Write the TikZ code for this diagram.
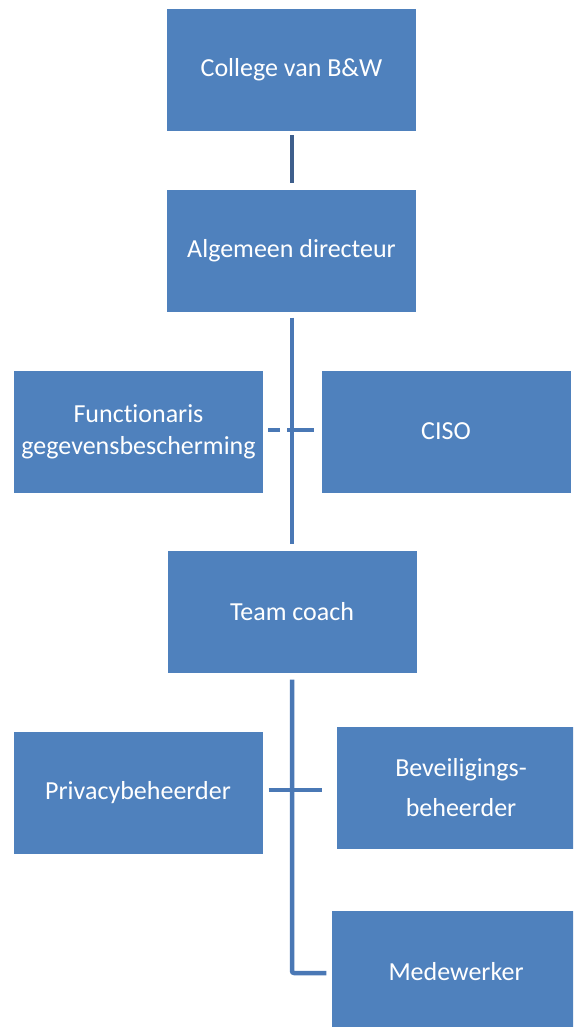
\documentclass[tikz,border=0pt]{standalone}
\usepackage{fontspec}
\setmainfont{Carlito}[Ligatures={NoCommon}, RawFeature={-liga;-dlig;-calt}]
\definecolor{boxblue}{HTML}{4F81BD}
\definecolor{linedark}{HTML}{3E5F8C}
\definecolor{lineblue}{HTML}{4A78B5}
\begin{document}
\begin{tikzpicture}[x=1pt,y=-1pt,
  orgbox/.style={fill=boxblue, draw=none, minimum width=249pt, minimum height=122pt,
    inner sep=0pt, align=center, text=white, font=\fontsize{26}{32}\selectfont},
  conn/.style={draw=lineblue, line width=4.5pt},
  conndash/.style={draw=lineblue, line width=4.5pt, dash pattern=on 12pt off 7pt}]
\useasboundingbox (0,0) rectangle (573,1027);
\clip (0,0) rectangle (573,1027);
\node[orgbox] (cvb) at (291.5,70) {College van B\&W};
\node[orgbox] (ad) at (291.5,250.5) {Algemeen directeur};
\node[orgbox] (fun) at (138.5,431.5) {Funct\kern0pt ionaris\\gegevensbescherming};
\node[orgbox] (ciso) at (446,431.5) {CISO};
\node[orgbox] (tc) at (292,611.5) {Team coach};
\node[orgbox] (priv) at (138,792.5) {Privacybeheerder};
\node[orgbox] (bev) at (461,788) {Beveiligings-\\[8pt]beheerder};
\node[orgbox] (med) at (456,971.5) {Medewerker};
\coordinate (corner) at (292,973);
\draw[draw=linedark, line width=4.5pt] ([yshift=-4]cvb.south -| 292,0) -- ([yshift=6]ad.north -| 292,0);
\draw[conn] ([yshift=-6]ad.south -| 292,0) -- ([yshift=6]tc.north -| 292,0);
\draw[conndash] ([xshift=5]fun.east |- 0,430) -- (292,430);
\draw[conn] (292,430) -- ([xshift=-7]ciso.west |- 0,430);
\draw[conn, line join=round, rounded corners=2pt] ([yshift=-7]tc.south -| 292,0) -- (corner) -- ([xshift=-5]med.west |- corner);
\draw[conn] ([xshift=6]priv.east |- 0,790) -- ([xshift=-14]bev.west |- 0,790);
\end{tikzpicture}
\end{document}
